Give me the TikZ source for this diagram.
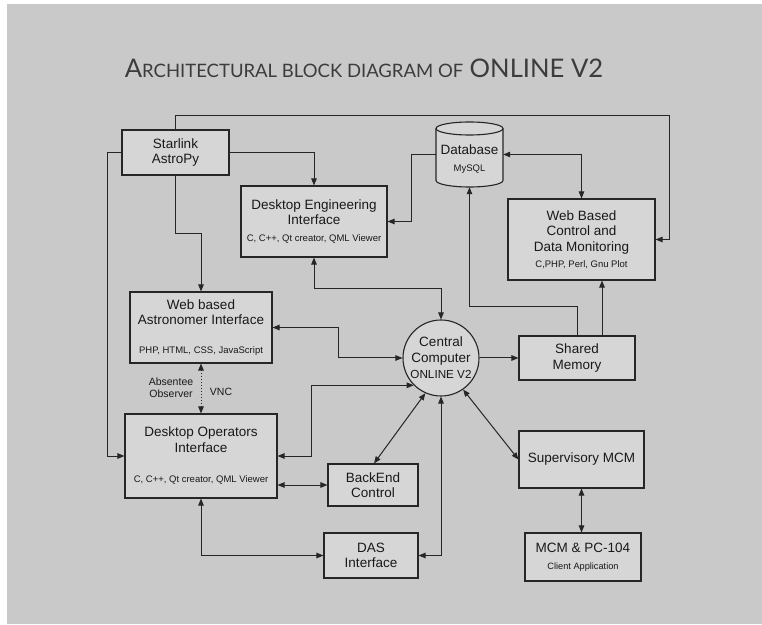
\documentclass[tikz,border=0pt]{standalone}
\usepackage{fontspec}
\setmainfont{Liberation Sans}
\newfontfamily\titlefont{Lato}
\usetikzlibrary{arrows.meta,positioning,calc}

\definecolor{bggray}{RGB}{201,201,201}
\definecolor{boxgray}{RGB}{214,214,214}
\definecolor{inkgray}{RGB}{38,38,38}
\definecolor{textgray}{RGB}{25,25,25}
\definecolor{titlegray}{RGB}{60,60,60}

\newcommand{\mainfs}{\fontsize{13.5}{15.5}\selectfont}
\newcommand{\smallfs}{\fontsize{9.5}{11}\selectfont}
\newcommand{\tinyfs}{\fontsize{9.2}{11}\selectfont}
\newcommand{\scfs}[1]{{\fontsize{18.5}{20}\selectfont #1}}

\begin{document}
\begin{tikzpicture}[x=1pt,y=1pt,
    box/.style={draw=inkgray, fill=boxgray, line width=1.1pt, align=center,
      inner sep=0pt, text=textgray, font=\mainfs},
    link/.style={draw=inkgray, line width=1pt, -{Triangle[length=7pt,width=5.5pt]}},
    dlink/.style={link, {Triangle[length=7pt,width=5.5pt]}-{Triangle[length=7pt,width=5.5pt]}},
    note/.style={align=center, text=textgray, font=\fontsize{10.5}{12}\selectfont}]
    \useasboundingbox (0,0) rectangle (762,624);
    \fill[bggray] (7,0) rectangle (762,620);

    % Title
    \node[text=titlegray, font=\titlefont\fontsize{25.6}{28}\selectfont] (title) at (364,556)
      {A\scfs{RCHITECTURAL BLOCK DIAGRAM OF} ONLINE V2};

    % Database cylinder
    \fill[boxgray] (436,495.5) -- (436,443.5)
      arc[start angle=180, end angle=360, x radius=33.5, y radius=6.5]
      -- (503,495.5) arc[start angle=0, end angle=180, x radius=33.5, y radius=6.5] -- cycle;
    \draw[inkgray, line width=1.1pt] (436,495.5) -- (436,443.5)
      arc[start angle=180, end angle=360, x radius=33.5, y radius=6.5] -- (503,495.5);
    \draw[inkgray, line width=1.1pt] (469.5,495.5) ellipse[x radius=33.5, y radius=6.5];
    \node[minimum width=67, minimum height=65, inner sep=0pt] (db) at (469.5,469.5) {};
    \node[align=center, text=textgray, font=\mainfs] (dblabel) at (469.5,465)
      {Database\\[1pt]{\smallfs MySQL}};

    % Blocks
    \node[box, minimum width=107, minimum height=45] (star) at (175.5,471.5) {Starlink\\AstroPy};
    \node[box, minimum width=146, minimum height=71] (deng) at (314,402.5)
      {Desktop Engineering\\Interface\\[1pt]{\smallfs C, C++, Qt creator, QML Viewer}};
    \node[box, minimum width=147, minimum height=81] (wctrl) at (581.5,384.5)
      {Web Based\\Control and\\Data Monitoring\\[1pt]{\smallfs C,PHP, Perl, Gnu Plot}};
    \node[box, minimum width=142, minimum height=71] (astro) at (201,296.5)
      {Web based\\Astronomer Interface\\[13pt]{\smallfs PHP, HTML, CSS, JavaScript}};
    \node[box, circle, minimum size=76] (cc) at (441,266)
      {Central\\Computer\\[1pt]{\fontsize{11.7}{13}\selectfont ONLINE V2}};
    \node[box, minimum width=116, minimum height=44] (shm) at (577,266) {Shared\\Memory};
    \node[box, minimum width=152, minimum height=84] (dop) at (201,168)
      {Desktop Operators\\Interface\\[15pt]{\smallfs C, C++, Qt creator, QML Viewer}};
    \node[box, minimum width=90, minimum height=42] (bec) at (373,139) {BackEnd\\Control};
    \node[box, minimum width=94, minimum height=45] (das) at (371,68.5) {DAS\\Interface};
    \node[box, minimum width=125, minimum height=57] (sup) at (581.5,164.5) {Supervisory MCM};
    \node[box, minimum width=116, minimum height=48] (mcm) at (583,67)
      {MCM \& PC-104\\[1pt]{\tinyfs Client Application}};

    % Starlink links
    \coordinate (topright) at (669,508);
    \draw[link] (star.north) |- (topright) |- (wctrl.east);
    \draw[link] (star.west) -- ++(-14,0) |- (dop.west);
    \draw[link] (star.east) -| (deng.north);
    \draw[link] (star.south) -- ++(0,-58) -| (astro.north);

    % Database links
    \draw[link] (db.west) -- ++(-24,0) |- (deng.east);
    \draw[dlink] (db.east) -| (wctrl.north);
    \draw[link] (shm.north) -- ++(0,29) -| (db.south);
    \draw[link] ([xshift=25pt]shm.north) -- ([xshift=25pt]shm.north |- wctrl.south);

    % Central computer links
    \draw[dlink] (deng.south) -- ++(0,-30.5) -| (cc.north);
    \draw[dlink] (astro.east) -- ++(66,0) |- (cc.west);
    \draw[link] (cc.east) -- (shm.west);
    \draw[dlink] (dop.east) -- ++(34,0) |- (cc.225);
    \draw[dlink] (bec.west -| dop.east) -- (bec.west);
    \draw[dlink] (cc.246) -- ([xshift=1pt]bec.north);
    \draw[dlink] (das.east) -| (cc.south);
    \draw[dlink] (cc.305) -- (sup.west);
    \draw[dlink] (dop.south) |- (das.west);
    \draw[dlink] (sup.south) -- (sup.south |- mcm.north);

    % Remote observing
    \draw[dlink, dotted, line width=1pt] (astro.south) -- (dop.north);
    \node[note] (absent) at (171,236) {Absentee\\Observer};
    \node[note] (vnc) at (221,232) {VNC};
\end{tikzpicture}
\end{document}
